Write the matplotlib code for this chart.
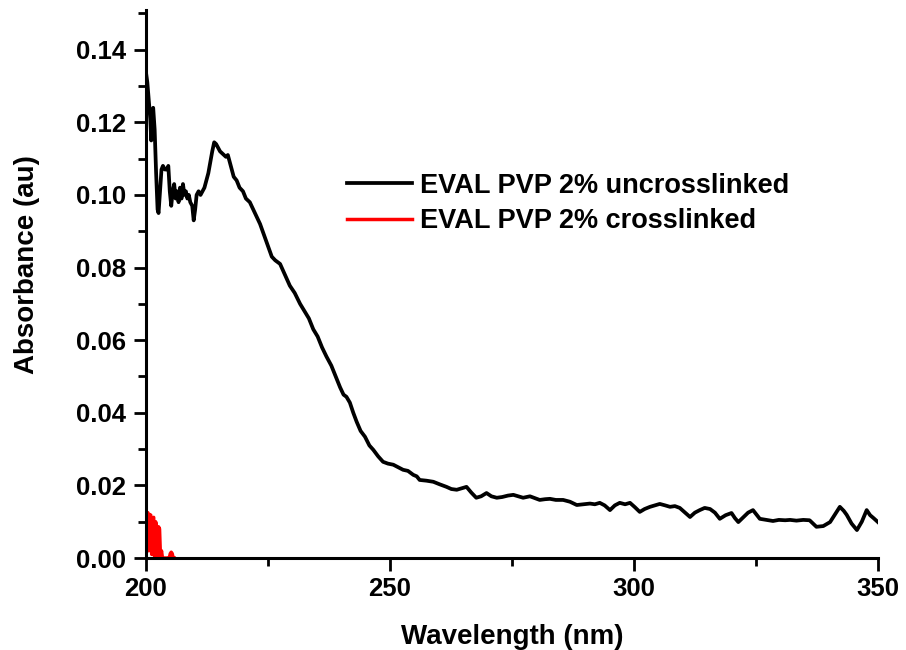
import matplotlib
matplotlib.use("Agg")
import matplotlib.pyplot as plt
from matplotlib.ticker import MultipleLocator

# =========================
# Data
# =========================
wavelength_uncross = [
    200.0, 200.3, 200.6, 200.9, 201.1, 201.3, 201.5, 201.8, 202.1, 202.4,
    202.6, 202.9, 203.2, 203.5, 203.9, 204.3, 204.6, 204.9, 205.2, 205.5,
    205.8, 206.1, 206.4, 206.7, 207.0, 207.3, 207.6, 207.9, 208.2, 208.5,
    208.8, 209.1, 209.5, 209.8, 210.1, 210.4, 210.8, 211.2, 211.6, 212.0,
    212.4, 212.8, 213.2, 213.6, 214.0, 214.4, 214.8, 215.2, 215.6, 216.0,
    216.4, 216.8, 217.2, 217.6, 218.0, 218.6, 219.2, 219.9, 220.5, 221.3,
    222.0, 222.7, 223.4, 224.2, 225.0, 225.8, 226.5, 227.5, 228.5, 229.5,
    230.5, 231.6, 232.5, 233.4, 234.3, 235.2, 236.1, 237.0, 238.0, 238.9,
    239.8, 240.5, 241.1, 241.8, 242.5, 243.2, 244.0, 244.9, 245.8, 246.6,
    247.6, 248.6, 249.6, 250.7, 251.7, 252.7, 253.7, 254.8, 255.5, 256.1,
    257.5, 258.9, 260.2, 261.6, 262.6, 263.7, 264.7, 265.7, 266.7, 267.7,
    268.7, 269.8, 270.8, 271.9, 273.0, 274.2, 275.3, 276.3, 277.3, 278.7,
    279.7, 280.7, 281.8, 282.8, 284.0, 285.5, 286.9, 288.3, 289.6, 291.0,
    292.0, 293.0, 294.0, 295.1, 296.1, 297.1, 298.2, 299.2, 300.2, 301.2,
    302.2, 303.3, 304.3, 305.3, 306.4, 307.4, 308.4, 309.4, 310.5, 311.5,
    312.5, 313.5, 314.5, 315.6, 316.6, 317.6, 318.8, 320.0, 320.7, 321.4,
    322.4, 323.4, 324.4, 325.1, 325.8, 327.1, 328.5, 329.7, 331.0, 332.0,
    333.3, 334.7, 336.0, 337.4, 338.8, 340.2, 341.2, 342.2, 343.0, 343.6,
    344.6, 345.7, 346.7, 347.7, 348.4, 349.1, 350.0,
]
absorbance_uncross = [
    0.134, 0.131, 0.126, 0.121, 0.115, 0.122, 0.124, 0.118, 0.106, 0.096,
    0.095, 0.101, 0.107, 0.108, 0.107, 0.107, 0.108, 0.101, 0.097, 0.101,
    0.103, 0.099, 0.101, 0.098, 0.102, 0.099, 0.103, 0.100, 0.101, 0.099,
    0.100, 0.098, 0.097, 0.093, 0.096, 0.100, 0.101, 0.100, 0.101, 0.102,
    0.104, 0.106, 0.109, 0.112, 0.1145, 0.114, 0.113, 0.112, 0.1115, 0.111,
    0.1105, 0.111, 0.109, 0.107, 0.105, 0.104, 0.102, 0.101, 0.099, 0.098,
    0.096, 0.094, 0.092, 0.089, 0.086, 0.083, 0.082, 0.081, 0.078, 0.075,
    0.073, 0.070, 0.068, 0.066, 0.063, 0.061, 0.058, 0.0555, 0.053, 0.050,
    0.047, 0.045, 0.0444, 0.0428, 0.040, 0.0375, 0.035, 0.0334, 0.031, 0.0298,
    0.028, 0.0265, 0.026, 0.0257, 0.025, 0.0243, 0.024, 0.0229, 0.0225, 0.0215,
    0.0213, 0.021, 0.0203, 0.0196, 0.019, 0.0188, 0.0192, 0.0196, 0.018, 0.0166,
    0.017, 0.0179, 0.017, 0.0166, 0.0168, 0.0172, 0.0174, 0.017, 0.0166, 0.017,
    0.0165, 0.016, 0.0162, 0.0163, 0.016, 0.016, 0.0155, 0.0146, 0.0148, 0.015,
    0.0148, 0.0152, 0.0145, 0.0132, 0.0145, 0.0152, 0.0148, 0.0152, 0.014, 0.0127,
    0.0135, 0.0141, 0.0145, 0.0149, 0.0145, 0.0141, 0.0143, 0.0138, 0.0125, 0.0113,
    0.0125, 0.0132, 0.0138, 0.0135, 0.0125, 0.0108, 0.0118, 0.0124, 0.011, 0.0099,
    0.0112, 0.0125, 0.0132, 0.012, 0.0108, 0.0105, 0.0102, 0.0105, 0.0104, 0.0105,
    0.0103, 0.0105, 0.0104, 0.0086, 0.0088, 0.0099, 0.012, 0.0141, 0.013, 0.0119,
    0.0095, 0.0077, 0.010, 0.0132, 0.0118, 0.011, 0.0099,
]

wavelength_cross = [
    200.0, 200.2, 200.4, 200.6, 200.8, 201.0, 201.2, 201.4, 201.6, 201.8,
    202.0, 202.2, 202.4, 202.6, 202.8, 203.0, 203.2, 203.4, 203.6, 203.8,
    204.0, 204.2, 204.4, 204.6, 204.8, 205.0, 205.2, 205.4, 205.6, 205.8,
]
absorbance_cross = [
    0.000, 0.0122, 0.0125, 0.002, 0.0120, 0.0118, 0.001, 0.0108, 0.0112, 0.000,
    0.0100, 0.0085, 0.000, 0.0086, 0.0080, 0.000, 0.002, 0.000, 0.000, 0.000,
    0.000, 0.000, 0.000, 0.000, 0.000, 0.0012, 0.0016, 0.0012, 0.000, 0.000,
]

labels = ["EVAL PVP 2% uncrosslinked", "EVAL PVP 2% crosslinked"]

plt.rcParams.update({
    "font.family": ["Liberation Sans", "DejaVu Sans"],
    "font.weight": "bold",
    "axes.labelweight": "bold",
})

fig = plt.figure(figsize=(9.06, 6.5), dpi=100)
ax = fig.add_axes([0.161, 0.1415, 0.808, 0.8435])

ax.plot(wavelength_uncross, absorbance_uncross, color="black", lw=2.7, label=labels[0])
ax.plot(wavelength_cross, absorbance_cross, color="red", lw=2.5, label=labels[1])

ax.set_xlim(200, 350)
ax.set_ylim(0, 0.151)
ax.xaxis.set_major_locator(MultipleLocator(50))
ax.xaxis.set_minor_locator(MultipleLocator(25))
ax.yaxis.set_major_locator(MultipleLocator(0.02))
ax.yaxis.set_minor_locator(MultipleLocator(0.01))
ax.yaxis.set_major_formatter(plt.FormatStrFormatter("%.2f"))

for side in ["top", "right"]:
    ax.spines[side].set_visible(False)
for side in ["left", "bottom"]:
    ax.spines[side].set_linewidth(2.2)

ax.tick_params(which="major", direction="out", length=9, width=2, labelsize=18.5, pad=5)
ax.tick_params(which="minor", direction="out", length=5.5, width=2)

ax.set_xlabel("Wavelength (nm)", fontsize=20, labelpad=16)
ax.set_ylabel("Absorbance (au)", fontsize=20, labelpad=26)
ax.yaxis.label.set_y(0.535)

ax.legend(
    loc="upper left", bbox_to_anchor=(0.2746, 0.703), frameon=False,
    fontsize=19.5, handlelength=2.4, handletextpad=0.3, labelspacing=0.35,
    borderpad=0, borderaxespad=0,
)

fig.savefig("out.png", dpi=100)
